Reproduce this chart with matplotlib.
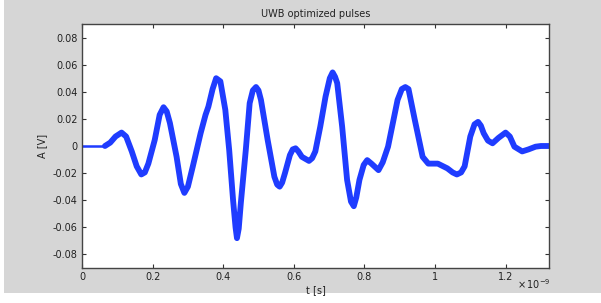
import matplotlib
matplotlib.use("Agg")
import matplotlib.pyplot as plt
from matplotlib.ticker import FuncFormatter
from matplotlib.patches import Rectangle

# time in units of 1e-9 s, amplitude in V
t_flat = [0.0, 0.065]
a_flat = [0.0, 0.0]

t_ns = [0.065, 0.08, 0.095, 0.112, 0.125, 0.141, 0.155, 0.168, 0.178, 0.188, 0.206,
        0.220, 0.231, 0.240, 0.249, 0.268, 0.280, 0.290, 0.300, 0.314, 0.336, 0.350,
        0.358, 0.370, 0.380, 0.392, 0.406, 0.417, 0.428, 0.435, 0.439, 0.444, 0.450,
        0.464, 0.475, 0.484, 0.493, 0.500, 0.507, 0.526, 0.545, 0.553, 0.560, 0.567,
        0.575, 0.589, 0.597, 0.605, 0.613, 0.623, 0.643, 0.652, 0.661, 0.675, 0.690,
        0.702, 0.710, 0.717, 0.723, 0.737, 0.751, 0.762, 0.770, 0.777, 0.786, 0.798,
        0.808, 0.820, 0.840, 0.852, 0.867, 0.894, 0.906, 0.916, 0.925, 0.943, 0.965,
        0.981, 1.008, 1.035, 1.050, 1.062, 1.074, 1.084, 1.100, 1.112, 1.122, 1.130,
        1.138, 1.150, 1.163, 1.180, 1.200, 1.212, 1.225, 1.247, 1.265, 1.285, 1.300,
        1.323]
a_v = [0.0, 0.0025, 0.0070, 0.0099, 0.0070, -0.004, -0.0150, -0.0210, -0.0195, -0.0130, 0.0044,
       0.0230, 0.0286, 0.0255, 0.0170, -0.0080, -0.0280, -0.0346, -0.0300, -0.0150, 0.0094, 0.0230,
       0.0290, 0.0420, 0.0500, 0.0477, 0.0267, -0.0030, -0.0400, -0.0600, -0.0680, -0.0610, -0.0420,
       -0.0030, 0.0316, 0.0410, 0.0435, 0.0410, 0.0340, 0.0044, -0.0227, -0.0285, -0.0300, -0.0270,
       -0.0200, -0.0067, -0.0025, -0.0017, -0.0040, -0.0080, -0.0110, -0.0090, -0.0040, 0.0143, 0.0365,
       0.0500, 0.0543, 0.0510, 0.0464, 0.0143, -0.0250, -0.0410, -0.0444, -0.0380, -0.0250, -0.0140,
       -0.0104, -0.0130, -0.0178, -0.0120, -0.0005, 0.0340, 0.0420, 0.0435, 0.0420, 0.0190, -0.0080,
       -0.0130, -0.0130, -0.0165, -0.0195, -0.0210, -0.0195, -0.0150, 0.0070, 0.0160, 0.0178, 0.0150,
       0.0094, 0.0040, 0.0020, 0.0060, 0.0099, 0.0070, -0.0005, -0.0040, -0.0025, -0.0005, 0.0000,
       0.0000]

x_ticks = [0, 0.2, 0.4, 0.6, 0.8, 1.0, 1.2]
y_ticks = [-0.08, -0.06, -0.04, -0.02, 0, 0.02, 0.04, 0.06, 0.08]

W, H = 601, 303
fig = plt.figure(figsize=(W / 100, H / 100), dpi=100)
fig.patch.set_facecolor("white")
bg = Rectangle((4 / W, 10 / H), 597 / W, 293 / H, transform=fig.transFigure,
               facecolor="#d6d6d6", edgecolor="none", zorder=-10)
fig.patches.append(bg)

ax = fig.add_axes([82 / W, (H - 268) / H, (549 - 82) / W, (268 - 24) / H])
ax.set_zorder(1)
ax.set_facecolor("white")

line_color = "#1f3cff"
ax.plot(t_flat, a_flat, color=line_color, lw=1.8, solid_capstyle="butt")
ax.plot(t_ns, a_v, color=line_color, lw=4.2, solid_joinstyle="round", solid_capstyle="round")

ax.set_xlim(0, 1.323)
ax.set_ylim(-0.09, 0.09)
ax.set_xticks(x_ticks)
ax.set_yticks(y_ticks)
fmt = FuncFormatter(lambda v, p: ("%g" % round(v, 4)))
ax.xaxis.set_major_formatter(fmt)
ax.yaxis.set_major_formatter(fmt)
ax.tick_params(direction="in", length=3, width=0.8, colors="#333333", labelsize=7,
               top=True, right=True, pad=3)
for lab in ax.get_xticklabels() + ax.get_yticklabels():
    lab.set_color("#222222")
for s in ax.spines.values():
    s.set_color("#444444")
    s.set_linewidth(1.0)

ax.set_title("UWB optimized pulses", fontsize=7, color="#222222", pad=5)
ax.set_xlabel("t [s]", fontsize=7, color="#222222", labelpad=2)
ax.set_ylabel("A [V]", fontsize=7, color="#222222", labelpad=4)
fig.text(517 / W, (H - 291) / H, r"$\times\,10^{-9}$", fontsize=7, color="#222222",
         ha="left", va="bottom")

fig.savefig("out.png", dpi=100, facecolor=fig.get_facecolor())
